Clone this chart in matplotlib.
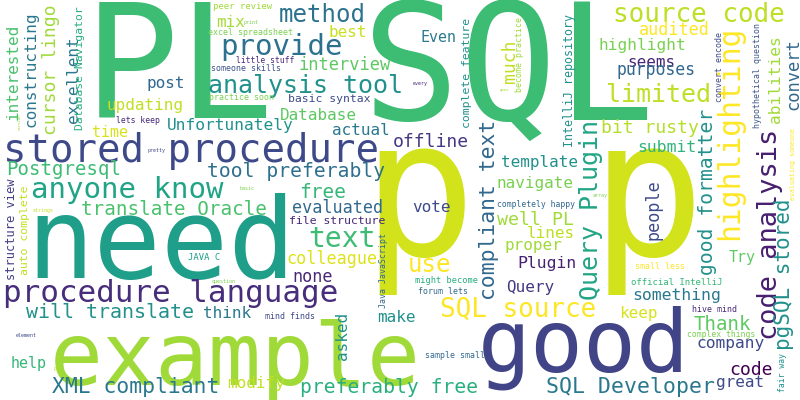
import matplotlib
matplotlib.use("Agg")
import matplotlib.pyplot as plt

# word, left x (px), baseline y (px), font size (px), rotation, colour
# rotated words: x is the baseline (right side), y is where the word starts (bottom)
cloud = [
    ("PL", 84, 118, 158, 0, "#3dbc74"),
    ("SQL", 362, 120, 162, 0, "#3dbc74"),
    ("p p", 362, 255, 190, 0, "#d2e21b"),
    ("need", 26, 278, 112, 0, "#1f9e89"),
    ("example", 50, 385, 88, 0, "#a0da39"),
    ("good", 478, 372, 88, 0, "#414487"),
    ("stored procedure", 3, 162, 39, 0, "#3e4989"),
    ("procedure language", 3, 302, 31, 0, "#472d7b"),
    ("anyone know", 31, 198, 29, 0, "#20a486"),
    ("analysis tool", 208, 93, 25, 0, "#21918c"),
    ("provide", 220, 55, 29, 0, "#2c728e"),
    ("method", 279, 22, 24, 0, "#2c728e"),
    ("source code", 613, 22, 26, 0, "#bddf26"),
    ("limited", 606, 102, 25, 0, "#bddf26"),
    ("text", 308, 247, 28, 0, "#3dbc74"),
    ("SQL source", 440, 317, 26, 0, "#fde725"),
    ("use", 408, 272, 24, 0, "#fde725"),
    ("interview", 299, 70, 17, 0, "#5ec962"),
    ("best", 329, 37, 16, 0, "#c8e020"),
    ("mix", 216, 27, 16, 0, "#a5db36"),
    ("peer review", 213, 9, 9, 0, "#a0da39"),
    ("print", 244, 24, 5, 0, "#7ad151"),
    ("excel spreadsheet", 208, 35, 8.3, 0, "#7ad151"),
    ("little stuff", 236, 63, 8, 0, "#482878"),
    ("someone skills", 211, 71, 8.3, 0, "#3b528b"),
    ("post", 146, 88, 16, 0, "#31688e"),
    ("updating", 106, 110, 16, 0, "#c2df23"),
    ("practice soon", 209, 100, 8.3, 0, "#7ad151"),
    ("basic syntax", 288, 102, 11.4, 0, "#3e4a89"),
    ("Database", 280, 120, 16, 0, "#5ec962"),
    ("Unfortunately", 167, 130, 16.3, 0, "#21918c"),
    ("actual", 332, 135, 16, 0, "#2a788e"),
    ("lets keep", 116, 123, 8.1, 0, "#482878"),
    ("time", 92, 137, 15, 0, "#d8e219"),
    ("pretty", 148, 152, 5, 0, "#3e4a89"),
    ("Postgresql", 6, 175, 19, 0, "#3dbc74"),
    ("tool preferably", 207, 177, 19.7, 0, "#2d708e"),
    ("free", 299, 198, 19.5, 0, "#35b779"),
    ("basic", 239, 190, 5, 0, "#7ad151"),
    ("Even", 421, 42, 15, 0, "#2a788e"),
    ("audited", 639, 35, 16.7, 0, "#fde725"),
    ("highlight", 599, 50, 16.3, 0, "#7ad151"),
    ("seems", 627, 67, 16, 0, "#482878"),
    ("purposes", 617, 75, 16.5, 0, "#31688e"),
    ("bit rusty", 601, 133, 18, 0, "#b5de2b"),
    ("submit", 637, 152, 16.4, 0, "#2fb47c"),
    ("template", 501, 167, 16, 0, "#21918c"),
    ("navigate", 496, 188, 16, 0, "#7ad151"),
    ("offline", 393, 147, 18, 0, "#453781"),
    ("every", 413, 85, 5, 0, "#482878"),
    ("goes", 500, 91, 4, 0, "#a0da39"),
    ("array", 593, 197, 5, 0, "#7ad151"),
    ("translate Oracle", 81, 215, 19.3, 0, "#4ac16d"),
    ("evaluated", 292, 213, 16.7, 0, "#31688e"),
    ("file structure", 289, 224, 11.5, 0, "#482878"),
    ("JAVA C", 188, 260, 8.9, 0, "#1f9e89"),
    ("colleague", 286, 264, 16.7, 0, "#dde318"),
    ("none", 292, 282, 16.7, 0, "#482878"),
    ("question", 212, 283, 5, 0, "#7ad151"),
    ("will translate", 26, 318, 20, 0, "#21918c"),
    ("think", 203, 318, 16, 0, "#2a788e"),
    ("mind finds", 265, 319, 8.3, 0, "#3e4a89"),
    ("make", 377, 322, 16, 0, "#21918c"),
    ("element", 16, 337, 5, 0, "#3e4a89"),
    ("strings", 33, 212, 5, 0, "#c2df23"),
    ("p", 53, 370, 6, 0, "#c2df23"),
    ("help", 11, 368, 15, 0, "#35b779"),
    ("XML compliant", 52, 393, 21.4, 0, "#2a788e"),
    ("modify", 227, 388, 16, 0, "#c2df23"),
    ("preferably free", 300, 393, 19.6, 0, "#29af7f"),
    ("vote", 412, 212, 16, 0, "#3e4a89"),
    ("completely happy", 497, 207, 8.1, 0, "#31688e"),
    ("well PL", 497, 225, 18.3, 0, "#a0da39"),
    ("lines", 527, 238, 16, 0, "#bddf26"),
    ("proper", 504, 250, 16, 0, "#a0da39"),
    ("Plugin", 517, 268, 16.4, 0, "#482173"),
    ("Query", 506, 292, 16, 0, "#453781"),
    ("might become", 415, 283, 8.6, 0, "#29af7f"),
    ("forum lets", 418, 294, 8.3, 0, "#31688e"),
    ("keep", 619, 318, 16, 0, "#d8e219"),
    ("Try", 729, 262, 15, 0, "#5ec962"),
    ("small less", 635, 269, 8.3, 0, "#fde725"),
    ("official IntelliJ", 631, 285, 9, 0, "#35b779"),
    ("something", 632, 300, 16.4, 0, "#2a788e"),
    ("hive mind", 692, 312, 8.3, 0, "#482878"),
    ("Thank", 694, 330, 19, 0, "#5ec962"),
    ("complex things", 687, 337, 8.1, 0, "#7ad151"),
    ("company", 696, 348, 16.2, 0, "#3e4a89"),
    ("code", 729, 375, 18, 0, "#440154"),
    ("great", 716, 387, 16, 0, "#3e4a89"),
    ("SQL Developer", 546, 393, 21.5, 0, "#2a788e"),
    ("sample small", 425, 358, 8.3, 0, "#31688e"),
    # vertical words
    ("interested", 18, 120, 16, 90, "#4ac16d"),
    ("constructing", 35, 127, 16, 90, "#2a788e"),
    ("cursor lingo", 56, 135, 18, 90, "#a0da39"),
    ("excellent", 78, 123, 16, 90, "#2a788e"),
    ("Database Navigator", 83, 130, 11.4, 90, "#29af7f"),
    ("version", 21, 130, 4, 90, "#a0da39"),
    ("structure view", 15, 280, 12, 90, "#433e85"),
    ("auto complete", 28, 275, 11.5, 90, "#c2df23"),
    ("Java JavaScript", 386, 308, 8.3, 90, "#31688e"),
    ("asked", 347, 360, 16, 90, "#21918c"),
    ("complete feature", 470, 128, 11.5, 90, "#21918c"),
    ("much", 515, 83, 18, 90, "#c2df23"),
    ("become practice", 522, 92, 8.3, 90, "#a0da39"),
    ("IntelliJ repository", 573, 147, 11.6, 90, "#21918c"),
    ("compliant text", 495, 300, 21.4, 90, "#31688e"),
    ("Query Plugin", 598, 300, 25, 90, "#21a585"),
    ("people", 658, 240, 16.7, 90, "#3e4a89"),
    ("good formatter", 713, 275, 19.6, 90, "#21918c"),
    ("highlighting", 738, 240, 29.6, 90, "#fde725"),
    ("code analysis", 777, 340, 27, 90, "#481f70"),
    ("abilities", 780, 123, 16.3, 90, "#a0da39"),
    ("convert", 798, 110, 17, 90, "#31688e"),
    ("convert encode", 722, 102, 8.3, 90, "#3e4a89"),
    ("hypothetical question", 760, 128, 8.3, 90, "#3b528b"),
    ("evaluating someone", 795, 200, 6.7, 90, "#fde725"),
    ("pgSQL stored", 790, 350, 21, 90, "#21918c"),
    ("fair way", 785, 392, 8, 90, "#21918c"),
]

words = [c[0] for c in cloud]
xs = [c[1] for c in cloud]
ys = [c[2] for c in cloud]
sizes = [c[3] for c in cloud]
rotations = [c[4] for c in cloud]
colors = [c[5] for c in cloud]

fig = plt.figure(figsize=(8, 4), dpi=100)
ax = fig.add_axes([0, 0, 1, 1])
ax.set_xlim(0, 800)
ax.set_ylim(400, 0)
ax.axis("off")

for w, x, y, s, r, c in zip(words, xs, ys, sizes, rotations, colors):
    ax.text(x, y, w, fontsize=s * 0.72, rotation=r, color=c,
            family="DejaVu Sans Mono", ha="left", va="baseline",
            rotation_mode="anchor")

fig.savefig("out.png", dpi=100, facecolor="white")
plt.close()
